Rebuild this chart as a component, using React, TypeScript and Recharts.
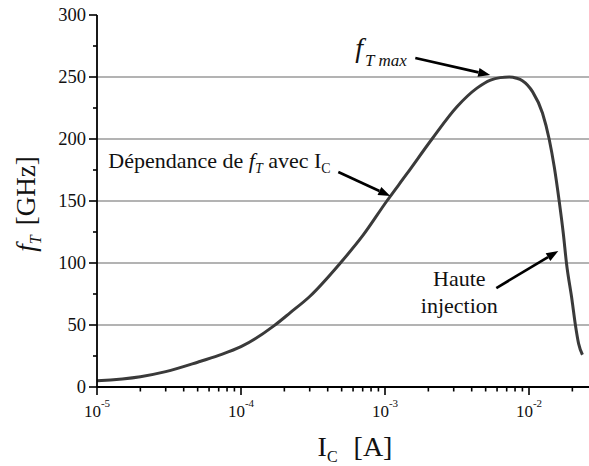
import { Label, Line, LineChart, ReferenceDot, ReferenceLine, XAxis, YAxis } from 'recharts';

// collector current [A] and transit frequency [GHz]
const currents = [
  1e-5, 2e-5, 3e-5, 5e-5, 7e-5, 1e-4, 1.7e-4, 2.2e-4, 3e-4, 4.9e-4, 7e-4, 1.03e-3, 1.42e-3, 2.12e-3,
  3.16e-3, 4.35e-3, 5.4e-3, 6.3e-3, 7.3e-3, 8.2e-3, 9e-3, 1.06e-2, 1.24e-2, 1.38e-2, 1.5e-2, 1.62e-2,
  1.73e-2, 1.82e-2, 1.99e-2, 2.1e-2, 2.21e-2, 2.35e-2,
];
const ftValues = [
  5, 8.3, 12.4, 20, 25.5, 32.5, 49.5, 60, 73, 100, 122, 150, 172, 200, 226, 241, 247.5, 249.5, 250, 249,
  247, 238, 221, 200, 177, 150, 124, 100, 70, 50, 35, 26,
];

const xMajorTicks = [1e-5, 1e-4, 1e-3, 1e-2];
const xMajorLabels = ['-5', '-4', '-3', '-2'];
const xMinorTicks = [
  2e-5, 3e-5, 4e-5, 5e-5, 6e-5, 7e-5, 8e-5, 9e-5, 2e-4, 3e-4, 4e-4, 5e-4, 6e-4, 7e-4, 8e-4, 9e-4,
  2e-3, 3e-3, 4e-3, 5e-3, 6e-3, 7e-3, 8e-3, 9e-3, 2e-2,
];
const yMajorTicks = [0, 50, 100, 150, 200, 250, 300];
const yMinorTicks = [25, 75, 125, 175, 225, 275];
const gridValues = [50, 100, 150, 200, 250];

const X_MAX = 0.0261;
const INK = '#111';
const serif = { fontFamily: "'Liberation Serif', 'DejaVu Serif', serif" };

const chartData = currents.map((ic, i) => ({ ic, ft: ftValues[i] }));

function BottomTick(props: any) {
  const { x, y, payload } = props;
  const idx = xMajorTicks.indexOf(payload.value);
  const major = idx >= 0;
  return (
    <g>
      <line x1={x} y1={y} x2={x} y2={y + (major ? 8 : 4.5)} stroke="#000" strokeWidth={1.6} />
      {major && (
        <text x={x} y={y + 30} textAnchor="middle" fontSize={17} style={serif} fill={INK}>
          10
          <tspan dy={-10} fontSize={11}>
            {xMajorLabels[idx]}
          </tspan>
        </text>
      )}
    </g>
  );
}

function TopTick(props: any) {
  const { x, y, payload } = props;
  const major = xMajorTicks.includes(payload.value);
  return <line x1={x} y1={y} x2={x} y2={y + (major ? 8 : 4)} stroke="#000" strokeWidth={1.6} />;
}

function LeftTick(props: any) {
  const { x, y, payload } = props;
  const major = yMajorTicks.includes(payload.value);
  return (
    <g>
      <line x1={x} y1={y} x2={x - (major ? 8 : 4)} y2={y} stroke="#000" strokeWidth={1.6} />
      {major && (
        <text x={x - 11} y={y} dy="0.35em" textAnchor="end" fontSize={18.5} style={serif} fill={INK}>
          {payload.value}
        </text>
      )}
    </g>
  );
}

function YTitle(props: any) {
  const { viewBox } = props;
  const cy = viewBox.y + viewBox.height / 2 + 3;
  return (
    <text
      transform={`rotate(-90, 35, ${cy})`}
      x={35}
      y={cy}
      textAnchor="middle"
      fontSize={27}
      style={serif}
      fill={INK}
    >
      <tspan fontStyle="italic">f</tspan>
      <tspan fontStyle="italic" fontSize={16} dy={6}>
        T
      </tspan>
      <tspan dy={-6} dx={10}>
        [GHz]
      </tspan>
    </text>
  );
}

function XTitle(props: any) {
  const { viewBox } = props;
  const cx = viewBox.x + viewBox.width / 2 + 12;
  return (
    <text x={cx} y={viewBox.y + 69} textAnchor="middle" fontSize={28} style={serif} fill={INK}>
      I
      <tspan fontSize={16} dy={6}>
        C
      </tspan>
      <tspan dy={-6} dx={16}>
        [A]
      </tspan>
    </text>
  );
}

function Arrow(props: any) {
  const { x1, y1, x2, y2 } = props;
  const dx = x2 - x1;
  const dy = y2 - y1;
  const len = Math.hypot(dx, dy);
  const ux = dx / len;
  const uy = dy / len;
  const bx = x2 - ux * 12;
  const by = y2 - uy * 12;
  return (
    <g>
      <line x1={x1} y1={y1} x2={bx} y2={by} stroke="#000" strokeWidth={2.6} />
      <polygon
        points={`${x2},${y2} ${bx - uy * 4.5},${by + ux * 4.5} ${bx + uy * 4.5},${by - ux * 4.5}`}
        fill="#000"
      />
    </g>
  );
}

function FtMaxNote(props: any) {
  const { cx, cy } = props;
  return (
    <text x={cx} y={cy} fontSize={28} style={serif} fontStyle="italic" fill={INK}>
      f
      <tspan fontSize={17} dy={9} dx={2}>
        T max
      </tspan>
    </text>
  );
}

function SlopeNote(props: any) {
  const { cx, cy } = props;
  return (
    <text x={cx} y={cy} fontSize={22} style={serif} fill={INK}>
      Dépendance de{' '}
      <tspan fontStyle="italic">f</tspan>
      <tspan fontStyle="italic" fontSize={14} dy={5}>
        T
      </tspan>
      <tspan dy={-5}> avec I</tspan>
      <tspan fontSize={14} dy={5}>
        C
      </tspan>
    </text>
  );
}

function InjectionNote(props: any) {
  const { cx, cy } = props;
  return (
    <text x={cx} y={cy} textAnchor="middle" fontSize={22} style={serif} fill={INK}>
      <tspan x={cx}>Haute</tspan>
      <tspan x={cx} dy={27}>
        injection
      </tspan>
    </text>
  );
}

export default function App() {
  return (
    <div style={{ position: 'absolute', left: 0, top: 0 }}>
      <LineChart width={589} height={466} data={chartData} margin={{ top: 15, right: 0, bottom: 0, left: 0 }}>
        <XAxis
          dataKey="ic"
          type="number"
          scale="log"
          domain={[1e-5, X_MAX]}
          allowDataOverflow
          ticks={[...xMajorTicks, ...xMinorTicks]}
          interval={0}
          tickSize={0}
          tickMargin={0}
          tickLine={false}
          tick={<BottomTick />}
          height={79}
          axisLine={{ stroke: '#000', strokeWidth: 1.8 }}
        >
          <Label content={<XTitle />} />
        </XAxis>
        <XAxis
          xAxisId="top"
          orientation="top"
          dataKey="ic"
          type="number"
          scale="log"
          domain={[1e-5, X_MAX]}
          allowDataOverflow
          ticks={[...xMajorTicks, ...xMinorTicks]}
          interval={0}
          tickSize={0}
          tickMargin={0}
          tickLine={false}
          tick={<TopTick />}
          height={0}
          axisLine={{ stroke: '#000', strokeWidth: 1.8 }}
        />
        <YAxis
          type="number"
          domain={[0, 300]}
          ticks={[...yMajorTicks, ...yMinorTicks]}
          interval={0}
          tickSize={0}
          tickMargin={0}
          tickLine={false}
          tick={<LeftTick />}
          width={97}
          axisLine={{ stroke: '#000', strokeWidth: 1.8 }}
        >
          <Label content={<YTitle />} />
        </YAxis>
        {gridValues.map((v) => (
          <ReferenceLine key={v} y={v} stroke="#9a9a9a" strokeWidth={1.5} />
        ))}
        <Line
          type="monotone"
          dataKey="ft"
          stroke="#3a3a3a"
          strokeWidth={3}
          dot={false}
          isAnimationActive={false}
        />
        <ReferenceLine
          segment={[
            { x: 1.623e-3, y: 265.3 },
            { x: 5.38e-3, y: 251.6 },
          ]}
          shape={Arrow}
        />
        <ReferenceLine
          segment={[
            { x: 4.74e-4, y: 173.4 },
            { x: 1.089e-3, y: 154 },
          ]}
          shape={Arrow}
        />
        <ReferenceLine
          segment={[
            { x: 5.93e-3, y: 79.8 },
            { x: 1.598e-2, y: 109.7 },
          ]}
          shape={Arrow}
        />
        <ReferenceDot x={6.22e-4} y={266.1} r={0} shape={FtMaxNote} />
        <ReferenceDot x={1.198e-5} y={176.6} r={0} shape={SlopeNote} />
        <ReferenceDot x={3.28e-3} y={81.5} r={0} shape={InjectionNote} />
      </LineChart>
    </div>
  );
}
